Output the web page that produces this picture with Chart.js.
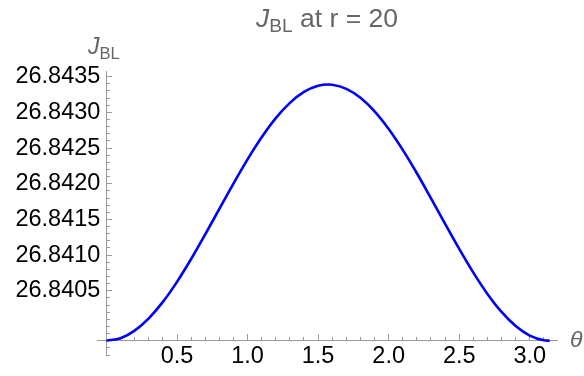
<!DOCTYPE html>
<html><head><meta charset="utf-8">
<script src="https://cdn.jsdelivr.net/npm/chart.js@4.4.0/dist/chart.umd.min.js"></script>
<style>
html,body{margin:0;padding:0;background:#fff;}
#wrap{position:relative;width:584px;height:376px;overflow:hidden;}
canvas{position:absolute;left:0;top:0;}
.lbl{position:absolute;font-family:"Liberation Sans",Arial,sans-serif;color:#666;white-space:nowrap;line-height:1;}
.lbl sub{font-size:0.72em;vertical-align:baseline;position:relative;top:0.28em;font-style:normal;}
#title{font-size:26.5px;left:327px;top:5px;transform:translateX(-50%);}
#ylab{font-size:23px;left:88px;top:35px;}
#xlab{font-size:23px;left:570px;top:328px;}
</style></head>
<body><div id="wrap"><canvas id="c" width="584" height="376"></canvas>
<div class="lbl" id="title"><i>J</i><sub>BL</sub> at r = 20</div>
<div class="lbl" id="ylab"><i>J</i><sub>BL</sub></div>
<div class="lbl" id="xlab"><i>θ</i></div>
</div>
<script>
const thetaValues = [0, 0.1, 0.2, 0.3, 0.4, 0.5, 0.6, 0.7, 0.8, 0.9, 1.0, 1.1, 1.2, 1.3, 1.4, 1.5, 1.5708,
  1.6, 1.7, 1.8, 1.9, 2.0, 2.1, 2.2, 2.3, 2.4, 2.5, 2.6, 2.7, 2.8, 2.9, 3.0, 3.1, 3.1416];
const jblValues = [26.839800, 26.839836, 26.839942, 26.840114, 26.840344, 26.840625, 26.840945,
  26.841290, 26.841648, 26.842003, 26.842342, 26.842651, 26.842919, 26.843133, 26.843286,
  26.843372, 26.843390, 26.843387, 26.843330, 26.843205, 26.843015, 26.842768, 26.842475,
  26.842147, 26.841796, 26.841438, 26.841086, 26.840754, 26.840456, 26.840203, 26.840006,
  26.839872, 26.839806, 26.839800];
const xTickLabels = ['0.5', '1.0', '1.5', '2.0', '2.5', '3.0'];
const yTickLabels = ['26.8405', '26.8410', '26.8415', '26.8420', '26.8425', '26.8430', '26.8435'];
const xRange = [-0.067, 3.193];
const yRange = [26.83960, 26.84358];
const yOrigin = 26.83980;
const xOrigin = 0;
const yLabelAnchor = -0.043;   // x value at which the y tick labels end

const axisColor = '#9a9a9a';
const tickFont = {family: '"Liberation Sans", Arial, sans-serif', size: 23.5};

const points = thetaValues.map((t, i) => ({x: t, y: jblValues[i]}));

new Chart(document.getElementById('c'), {
  type: 'line',
  data: {datasets: [{
    data: points, borderColor: '#0000ff', borderWidth: 2.6, pointRadius: 0,
    cubicInterpolationMode: 'monotone', fill: false
  }]},
  options: {
    responsive: false, animation: false,
    layout: {padding: {left: 97, top: 71, right: 27, bottom: 21}},
    plugins: {legend: {display: false}, title: {display: false}, tooltip: {enabled: false}},
    scales: {
      x: {
        type: 'linear', min: xRange[0], max: xRange[1], position: {y: yOrigin},
        afterBuildTicks: s => { s.ticks = xTickLabels.map(t => ({value: parseFloat(t)})); },
        ticks: {callback: (v, i) => xTickLabels[i], color: '#000', font: tickFont, padding: 9,
          maxRotation: 0, autoSkip: false},
        grid: {drawOnChartArea: false, tickLength: -7, tickColor: axisColor, tickWidth: 1},
        border: {display: true, color: axisColor, width: 1}
      },
      xMinor: {
        type: 'linear', axis: 'x', min: xRange[0], max: xRange[1], position: {y: yOrigin},
        ticks: {stepSize: 0.1, display: false, includeBounds: false, autoSkip: false, padding: 0},
        grid: {drawOnChartArea: false, tickLength: -4, tickColor: axisColor, tickWidth: 1},
        border: {display: false}
      },
      y: {
        type: 'linear', min: yRange[0], max: yRange[1], position: {x: xOrigin},
        afterBuildTicks: s => { s.ticks = yTickLabels.map(t => ({value: parseFloat(t)})); },
        ticks: {display: false, padding: 0, autoSkip: false},
        grid: {drawOnChartArea: false, tickLength: -6, tickColor: axisColor, tickWidth: 1},
        border: {display: true, color: axisColor, width: 1}
      },
      yMinor: {
        type: 'linear', axis: 'y', min: yRange[0], max: yRange[1], position: {x: xOrigin},
        ticks: {stepSize: 0.0001, display: false, includeBounds: false, autoSkip: false, padding: 0},
        grid: {drawOnChartArea: false, tickLength: -4, tickColor: axisColor, tickWidth: 1},
        border: {display: false}
      },
      yLab: {
        type: 'linear', axis: 'y', min: yRange[0], max: yRange[1], position: {x: yLabelAnchor},
        afterBuildTicks: s => { s.ticks = yTickLabels.map(t => ({value: parseFloat(t)})); },
        ticks: {callback: (v, i) => yTickLabels[i], color: '#000', font: tickFont, padding: 0,
          autoSkip: false},
        grid: {display: false, drawTicks: false},
        border: {display: false}
      }
    }
  }
});
</script>
</body></html>
